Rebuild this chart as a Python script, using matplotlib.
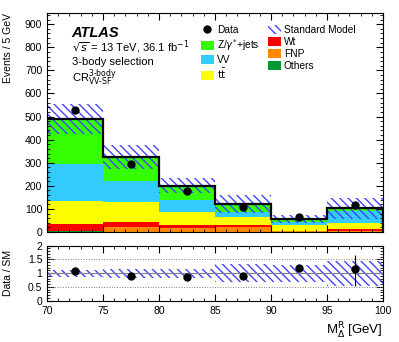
import numpy as np
import matplotlib
matplotlib.use("Agg")
import matplotlib.pyplot as plt
from matplotlib.ticker import MultipleLocator
from matplotlib.patches import Patch
from matplotlib.lines import Line2D

plt.rcParams['font.family'] = ['Liberation Sans', 'DejaVu Sans']
plt.rcParams['hatch.linewidth'] = 1.0

# binning (M_Delta^R, 5 GeV bins)
edges = np.array([70, 75, 80, 85, 90, 95, 100])
centers = 0.5 * (edges[:-1] + edges[1:])

# stacked backgrounds, bottom to top
others = [6, 0.5, 0.5, 0.5, 0.5, 0]
fnp = [0, 20, 18, 20, 3, 4]
wt = [29, 22, 12, 10, 1, 9]
ttbar = [99, 88, 58, 36, 26, 27]
vv = [160, 91, 52, 19, 12, 51]
zjets = [196, 102, 60, 36, 13, 12]

data = [527, 294, 176, 107, 66, 117]
sm_rel_unc = [0.13, 0.16, 0.16, 0.32, 0.31, 0.45]
ratio_err_up = [0.04, 0.06, 0.07, 0.09, 0.1, 0.54]
ratio_err_dn = [0.04, 0.06, 0.07, 0.09, 0.1, 0.60]

stack = [others, fnp, wt, ttbar, vv, zjets]
colors = ['#009933', '#ff8800', '#ff0000', '#ffff00', '#33ccff', '#33ff00']
labels = ['Others', 'FNP', 'Wt', r'$\mathrm{t\bar{t}}$', 'VV', r'Z/$\gamma^{*}$+jets']
hatch_col = '#4444ff'
hatch = '\\' * 4

fig = plt.figure(figsize=(3.99, 3.42), dpi=100)
ax = fig.add_axes([0.118, 0.3216, 0.842, 0.6414])
rax = fig.add_axes([0.118, 0.1208, 0.842, 0.1608])

bottom = np.zeros(6)
for vals, c in zip(stack, colors):
    vals = np.array(vals, dtype=float)
    ax.bar(edges[:-1], vals, width=5, bottom=bottom, align='edge', color=c, linewidth=0)
    bottom += vals
total = bottom
unc = total * np.array(sm_rel_unc)

ax.bar(edges[:-1], 2 * unc, width=5, bottom=total - unc, align='edge',
       facecolor='none', edgecolor=hatch_col, linewidth=0, hatch=hatch)
ax.stairs(total, edges, color='black', linewidth=1.6)
ax.plot(centers, data, 'o', color='black', markersize=5)

ax.set_xlim(70, 100)
ax.set_ylim(0, 950)
ax.xaxis.set_major_locator(MultipleLocator(5))
ax.xaxis.set_minor_locator(MultipleLocator(1))
ax.yaxis.set_major_locator(MultipleLocator(100))
ax.yaxis.set_minor_locator(MultipleLocator(20))
ax.tick_params(which='both', direction='in', top=True, right=True, labelsize=7.5)
ax.tick_params(which='major', length=5)
ax.tick_params(which='minor', length=2.5)
ax.set_xticklabels([])
ax.set_ylabel('Events / 5 GeV', fontsize=7.5, loc='top')

ax.text(72.2, 845, 'ATLAS', fontsize=10.5, fontweight='bold', fontstyle='italic')
ax.text(72.2, 783, r'$\sqrt{s}$ = 13 TeV, 36.1 fb$^{-1}$', fontsize=8)
ax.text(72.2, 722, '3-body selection', fontsize=8)
ax.text(72.2, 650, r'CR$^{\mathrm{3\text{-}body}}_{\mathrm{VV\text{-}SF}}$', fontsize=8)

handles = [Line2D([], [], marker='o', color='black', linestyle='none', markersize=5),
           Patch(facecolor=colors[5], linewidth=0),
           Patch(facecolor=colors[4], linewidth=0),
           Patch(facecolor=colors[3], linewidth=0),
           Patch(facecolor='none', edgecolor=hatch_col, hatch=hatch, linewidth=0),
           Patch(facecolor=colors[2], linewidth=0),
           Patch(facecolor=colors[1], linewidth=0),
           Patch(facecolor=colors[0], linewidth=0)]
names = ['Data', labels[5], labels[4], labels[3], 'Standard Model', labels[2], labels[1], labels[0]]
ax.legend(handles, names, ncol=2, frameon=False, fontsize=7.3, loc='upper left',
          bbox_to_anchor=(0.43, 0.985), handlelength=1.3, handleheight=0.9,
          handletextpad=0.3, columnspacing=0.8, labelspacing=0.2)

# ratio panel
ratio = np.array(data) / total
rax.bar(edges[:-1], 2 * np.array(sm_rel_unc), width=5, bottom=1 - np.array(sm_rel_unc),
        align='edge', facecolor='none', edgecolor=hatch_col, linewidth=0, hatch=hatch)
rax.axhline(1, color='gray', linewidth=0.8)
rax.axhline(0.5, color='gray', linewidth=0.7, linestyle=':')
rax.axhline(1.5, color='gray', linewidth=0.7, linestyle=':')
rax.errorbar(centers, ratio, yerr=[ratio_err_dn, ratio_err_up], fmt='o', color='black',
             markersize=5, elinewidth=0.8, capsize=0)
rax.set_xlim(70, 100)
rax.set_ylim(0, 2)
rax.xaxis.set_major_locator(MultipleLocator(5))
rax.xaxis.set_minor_locator(MultipleLocator(1))
rax.yaxis.set_major_locator(MultipleLocator(0.5))
rax.yaxis.set_minor_locator(MultipleLocator(0.1))
rax.tick_params(which='both', direction='in', top=True, right=True, labelsize=7.5)
rax.tick_params(which='major', length=5)
rax.tick_params(which='minor', length=2.5)
rax.set_yticks([0, 0.5, 1, 1.5, 2])
rax.set_yticklabels(['0', '0.5', '1', '1.5', '2'])
rax.set_ylabel('Data / SM', fontsize=7.5)
rax.set_xlabel(r'M$^{\mathrm{R}}_{\Delta}$ [GeV]', fontsize=9.5, loc='right')

ax.yaxis.set_label_coords(-0.1, 1.0)
rax.yaxis.set_label_coords(-0.1, 0.5)

fig.savefig('out.png', dpi=100)
